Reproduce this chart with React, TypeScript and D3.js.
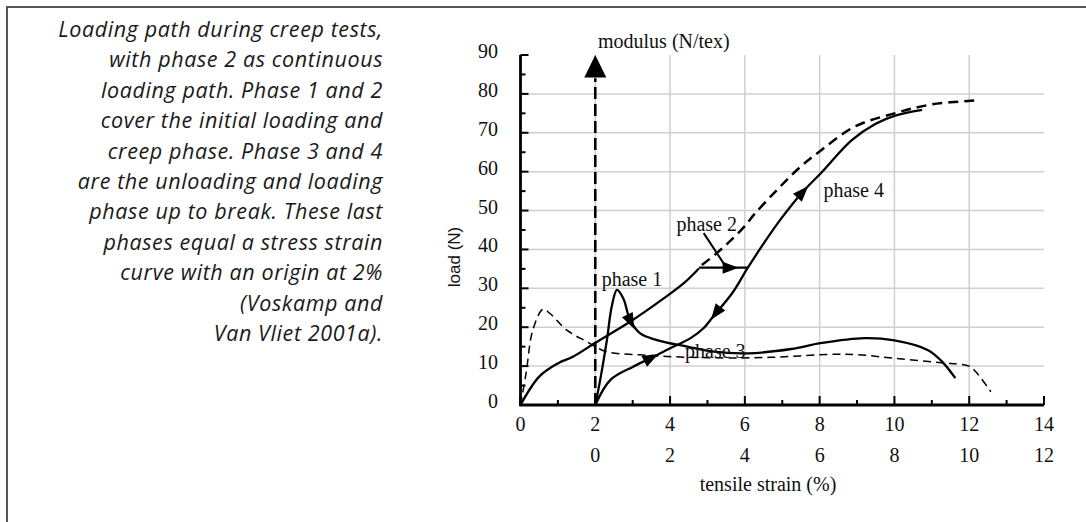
import React from "react";
import * as d3 from "d3";

const W = 1086;
const H = 522;

const captionLines = [
  "Loading path during creep tests,",
  "with phase 2 as continuous",
  "loading path. Phase 1 and 2",
  "cover the initial loading and",
  "creep phase. Phase 3 and 4",
  "are the unloading and loading",
  "phase up to break. These last",
  "phases equal a stress strain",
  "curve with an origin at 2%",
  "(Voskamp and",
  "Van Vliet 2001a).",
];

const yTicks = [0, 10, 20, 30, 40, 50, 60, 70, 80, 90];
const yMinorTicks = [5, 15, 25, 35, 45, 55, 65, 75, 85];
const xTicks = [0, 2, 4, 6, 8, 10, 12, 14];
const xMinorTicks = [1, 3, 5, 7, 9, 11, 13];
const xTicks2 = [0, 2, 4, 6, 8, 10, 12]; // shifted origin at 2%
const xGrid = [2, 4, 6, 8, 10, 12];
const yGrid = [10, 20, 30, 40, 50, 60, 70, 80];

type P = [number, number];

// solid loading path from origin (phase 2 continuous path)
const loadingPath: P[] = [
  [0, 0], [0.5, 7.3], [1.0, 10.7], [1.4, 12.4], [2.0, 16.0], [2.93, 21.4],
  [3.83, 27.4], [4.4, 31.6], [4.77, 35.1],
];
// horizontal creep step
const creepStep: P[] = [[4.77, 35.3], [6.08, 35.3]];
// dashed continuation of loading path
const continuousPath: P[] = [
  [4.85, 36.0], [5.28, 39.3], [5.63, 42.4], [5.98, 45.8], [6.25, 49.0],
  [6.79, 54.6], [7.4, 60.5], [8.05, 65.6], [8.94, 71.6], [10.0, 75.0],
  [11.0, 77.3], [12.17, 78.3],
];
// phase 1 (modulus after origin at 2%)
const phase1: P[] = [
  [2.0, 0], [2.13, 6.4], [2.31, 16.7], [2.44, 25.3], [2.58, 29.6], [2.75, 27.4],
  [2.93, 21.9], [3.2, 18.4], [3.65, 16.7], [4.46, 15.0], [5.17, 13.7],
  [6.08, 13.3], [7.24, 14.4], [8.02, 15.9], [9.2, 17.2], [10.0, 16.6],
  [10.9, 14.1], [11.28, 11.1], [11.63, 6.9],
];
// phase 3/4 unloading and reloading
const phase34: P[] = [
  [2.0, 0], [2.4, 6.4], [3.0, 9.8], [3.47, 12.0], [4.0, 14.6], [4.55, 17.2],
  [4.9, 19.8], [5.18, 23.1], [5.65, 28.6], [6.08, 35.3], [6.5, 41.5],
  [7.0, 48.3], [7.51, 54.4], [8.05, 59.8], [8.86, 68.1], [9.5, 72.3],
  [10.02, 74.4], [10.74, 75.9],
];
// dashed modulus curve
const modulusCurve: P[] = [
  [0, 0], [0.15, 8.2], [0.33, 19.3], [0.6, 24.6], [0.78, 23.6], [1.23, 19.3],
  [1.77, 16.3], [2.3, 13.7], [3.2, 12.9], [4.1, 12.4], [5.9, 12.1],
  [7.06, 12.4], [8.23, 13.0], [9.04, 12.9], [10.02, 12.0], [11.19, 10.9],
  [12.0, 10.0], [12.17, 8.6], [12.58, 3.4],
];
// arrowheads: position and a point giving direction
const arrowMarks: { at: P; to: P }[] = [
  { at: [2.95, 21.4], to: [3.02, 20.0] },
  { at: [5.62, 35.3], to: [5.9, 35.3] },
  { at: [5.22, 23.6], to: [5.05, 21.4] },
  { at: [3.5, 12.15], to: [3.75, 13.4] },
  { at: [7.55, 54.8], to: [7.75, 56.9] },
];
const phase2Pointer: P[] = [[4.9, 44.2], [5.44, 36.3]];

const phaseLabels: { text: string; at: P }[] = [
  { text: "phase 1", at: [2.17, 30.7] },
  { text: "phase 2", at: [4.17, 44.7] },
  { text: "phase 3", at: [4.4, 12.1] },
  { text: "phase 4", at: [8.1, 53.4] },
];

const x = d3.scaleLinear().domain([0, 14]).range([520.5, 1044]);
const y = d3.scaleLinear().domain([0, 90]).range([405, 55]);

const line = d3
  .line<P>()
  .x((d) => x(d[0]))
  .y((d) => y(d[1]))
  .curve(d3.curveCatmullRom.alpha(0.5));
const straight = d3
  .line<P>()
  .x((d) => x(d[0]))
  .y((d) => y(d[1]));

const serif = "'Liberation Serif', 'Times New Roman', serif";
const FS = 20;

export default function App() {
  return (
    <svg
      width={W}
      height={H}
      style={{ position: "absolute", left: 0, top: 0, background: "#fff" }}
    >
      <rect x={0} y={0} width={W} height={H} fill="#fff" />
      {/* frame */}
      <path d={`M7,${H} L7,7 L${W},7`} fill="none" stroke="#555" strokeWidth={2} />

      {/* caption */}
      <g
        fontFamily="'Open Sans', 'Liberation Sans', Arial, sans-serif"
        fontStyle="italic"
        fontSize={21.5}
        letterSpacing={0.6}
        fill="#1a1a1a"
        textAnchor="end"
      >
        {captionLines.map((t, i) => (
          <text key={i} x={383} y={37 + i * 30.4}>
            {t}
          </text>
        ))}
      </g>

      {/* grid */}
      <g stroke="#cfcfcf" strokeWidth={1.5}>
        {yGrid.map((v) => (
          <line key={"h" + v} x1={x(0)} x2={x(14)} y1={y(v)} y2={y(v)} />
        ))}
        {xGrid.map((v) => (
          <line key={"v" + v} x1={x(v)} x2={x(v)} y1={y(90)} y2={y(0)} />
        ))}
      </g>

      {/* modulus arrow */}
      <line
        x1={x(2)}
        x2={x(2)}
        y1={y(0)}
        y2={y(84)}
        stroke="#000"
        strokeWidth={2.6}
        strokeDasharray="12 5"
      />
      <path
        d={`M${x(2)},${y(90)} L${x(2) + 11},${y(84.2)} L${x(2) - 11},${y(84.2)} Z`}
        fill="#000"
      />
      <text x={598} y={48} fontFamily={serif} fontSize={FS} fill="#111">
        modulus (N/tex)
      </text>

      {/* curves */}
      <g fill="none" stroke="#000" strokeLinejoin="round">
        <path d={line(modulusCurve) || ""} strokeWidth={1.5} strokeDasharray="8 5" />
        <path d={line(continuousPath) || ""} strokeWidth={2.5} strokeDasharray="10 6" />
        <path d={line(loadingPath) || ""} strokeWidth={2.3} />
        <path d={straight(creepStep) || ""} strokeWidth={2.3} />
        <path d={line(phase1) || ""} strokeWidth={2.3} />
        <path d={line(phase34) || ""} strokeWidth={2.3} />
        <path d={straight(phase2Pointer) || ""} strokeWidth={2} />
      </g>

      {/* arrowheads */}
      <g fill="#000">
        {arrowMarks.map((a, i) => {
          const px = x(a.at[0]);
          const py = y(a.at[1]);
          const ang =
            (Math.atan2(y(a.to[1]) - py, x(a.to[0]) - px) * 180) / Math.PI;
          return (
            <path
              key={i}
              d="M8,0 L-8,-6 L-8,6 Z"
              transform={`translate(${px},${py}) rotate(${ang})`}
            />
          );
        })}
      </g>

      {/* phase labels */}
      <g fontFamily={serif} fontSize={FS} fill="#111">
        {phaseLabels.map((p) => (
          <text key={p.text} x={x(p.at[0])} y={y(p.at[1])}>
            {p.text}
          </text>
        ))}
      </g>

      {/* axes */}
      <g stroke="#000">
        <line x1={x(0)} x2={x(0)} y1={y(0) + 1} y2={y(90)} strokeWidth={2.8} />
        <line x1={x(0) - 1} x2={x(14)} y1={y(0)} y2={y(0)} strokeWidth={2.8} />
        {yTicks.map((v) => (
          <line key={"yt" + v} x1={x(0)} x2={x(0) + 8} y1={y(v)} y2={y(v)} strokeWidth={2} />
        ))}
        {yMinorTicks.map((v) => (
          <line key={"ym" + v} x1={x(0)} x2={x(0) + 5} y1={y(v)} y2={y(v)} strokeWidth={2} />
        ))}
        {xTicks.map((v) => (
          <line key={"xt" + v} x1={x(v)} x2={x(v)} y1={y(0)} y2={y(0) - 9} strokeWidth={2} />
        ))}
        {xMinorTicks.map((v) => (
          <line key={"xm" + v} x1={x(v)} x2={x(v)} y1={y(0)} y2={y(0) - 5} strokeWidth={2} />
        ))}
      </g>

      {/* tick labels */}
      <g fontFamily={serif} fontSize={FS} fill="#111">
        {yTicks.map((v) => (
          <text key={"yl" + v} x={498} y={y(v) + 3} textAnchor="end">
            {v}
          </text>
        ))}
        {xTicks.map((v) => (
          <text key={"xl" + v} x={x(v)} y={431} textAnchor="middle">
            {v}
          </text>
        ))}
        {xTicks2.map((v) => (
          <text key={"xl2" + v} x={x(v + 2)} y={462} textAnchor="middle">
            {v}
          </text>
        ))}
        <text x={768} y={491} textAnchor="middle">
          tensile strain (%)
        </text>
      </g>
      <text
        transform={`translate(460,257) rotate(-90)`}
        textAnchor="middle"
        fontFamily="'Liberation Sans', Arial, sans-serif"
        fontSize={17}
        fill="#111"
      >
        load (N)
      </text>
    </svg>
  );
}
